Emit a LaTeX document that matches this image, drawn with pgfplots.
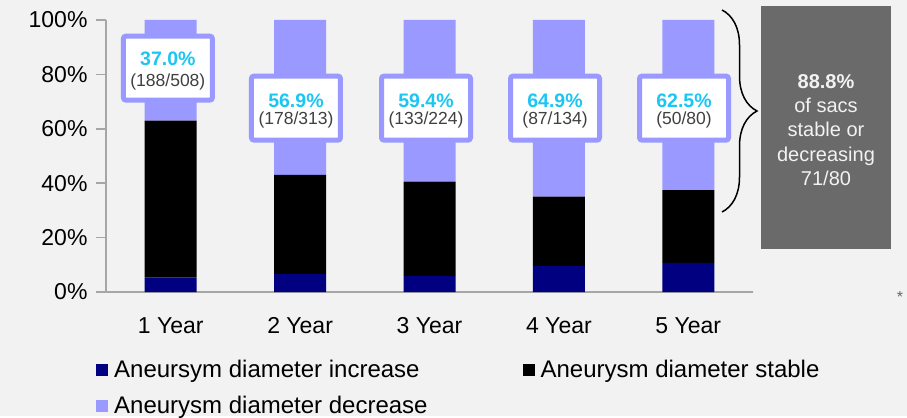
\documentclass[border=0pt]{standalone}
\usepackage{pgfplots}
\pgfplotsset{compat=1.18}
\usepackage{fontspec}
\setmainfont{Liberation Sans}
\usetikzlibrary{decorations.pathreplacing}
\definecolor{bg}{HTML}{F2F2F2}
\definecolor{axgray}{HTML}{A6A6A6}
\definecolor{incr}{HTML}{000080}
\definecolor{decr}{HTML}{9999FF}
\definecolor{cyanlab}{HTML}{1CC6F2}
\definecolor{darktxt}{HTML}{404040}
\definecolor{boxgray}{HTML}{6A6A6A}
\definecolor{boxtxt}{HTML}{F2F2F2}

\newcommand{\pbox}[5]{%
  \node[draw=decr, line width=5pt, fill=white, rounded corners=2.5pt,
        minimum width=89pt, minimum height=64pt, inner sep=0pt] at (#1) {};
  \node[font=\fontsize{19.5}{19.5}\selectfont\bfseries, text=cyanlab, inner sep=0pt, yshift=#4]
        at (#1) {#2};
  \node[font=\fontsize{17.5}{17.5}\selectfont, text=darktxt, inner sep=0pt, yshift=#5]
        at (#1) {#3};
}

\begin{document}
\begin{tikzpicture}[x=1pt,y=1pt]
\fill[bg] (0,0) rectangle (907,416);
\begin{axis}[
  at={(106pt,124pt)}, anchor=south west,
  scale only axis, width=647pt, height=272pt,
  ybar stacked, bar width=52pt,
  xmin=-0.5, xmax=4.5, ymin=0, ymax=100,
  axis x line*=bottom, axis y line*=left,
  axis line style={draw=axgray, line width=1.5pt, -},
  xtick={0,1,2,3,4},
  xticklabels={1 Year,2 Year,3 Year,4 Year,5 Year},
  x tick style={draw=none},
  xticklabel style={yshift=-12pt},
  ytick={0,20,40,60,80,100},
  /pgf/number format/assume math mode=true,
  yticklabel={\pgfmathprintnumber{\tick}\%},
  yticklabel style={xshift=-5pt},
  y tick style={draw=axgray, line width=1.5pt},
  tick align=outside, major tick length=10pt,
  tick label style={font=\fontsize{23}{27}\selectfont},
  legend style={at={(-0.0155,-0.243)}, anchor=north west, draw=none, fill=none,
    inner sep=0pt, font=\fontsize{24}{28}\selectfont, row sep=13pt,
    /tikz/every odd column/.append style={column sep=4pt},
    /tikz/every even column/.append style={column sep=93pt}},
  legend columns=2,
  legend cell align=left,
  legend image code/.code={\fill[#1] (0pt,-6pt) rectangle (12pt,6pt);},
]
\addplot+[fill=incr, draw=none] coordinates {(0,5.4) (1,6.6) (2,5.9) (3,9.6) (4,10.7)};
\addplot+[fill=black, draw=none] coordinates {(0,57.6) (1,36.5) (2,34.7) (3,25.5) (4,26.8)};
\addplot+[fill=decr, draw=none] coordinates {(0,37.0) (1,56.9) (2,59.4) (3,64.9) (4,62.5)};
\legend{Aneursym diameter increase, Aneurysm diameter stable, Aneurysm diameter decrease}
\pgfplotsinvokeforeach{-0.5,0.5,1.5,2.5,3.5,4.5}{
  \draw[axgray, line width=1.5pt] (axis cs:#1,0) -- ++(0,-8pt);
}
\coordinate (p1) at (axis cs:-0.022,82.3);
\coordinate (p2) at (axis cs:0.968,67.6);
\coordinate (p3) at (axis cs:1.973,67.6);
\coordinate (p4) at (axis cs:2.970,67.6);
\coordinate (p5) at (axis cs:3.967,67.6);
\end{axis}
\pbox{p1}{37.0\%}{(188/508)}{9pt}{-14pt}
\pbox{p2}{56.9\%}{(178/313)}{7.5pt}{-12pt}
\pbox{p3}{59.4\%}{(133/224)}{7.5pt}{-12pt}
\pbox{p4}{64.9\%}{(87/134)}{7.5pt}{-12pt}
\pbox{p5}{62.5\%}{(50/80)}{7.5pt}{-12pt}
\draw[decorate, decoration={brace, amplitude=35pt}, line width=1.5pt] (722,406) -- (722,204);
\fill[boxgray] (761,410) rectangle (891,167);
\node[align=center, text=boxtxt, font=\fontsize{20}{24.3}\selectfont, inner sep=0pt] at (826,286)
  {\textbf{88.8\%}\\of sacs\\stable or\\decreasing\\71/80};
\node[text=darktxt!80, font=\fontsize{16}{16}\selectfont, inner sep=0pt] at (900,119) {*};
\end{tikzpicture}
\end{document}
